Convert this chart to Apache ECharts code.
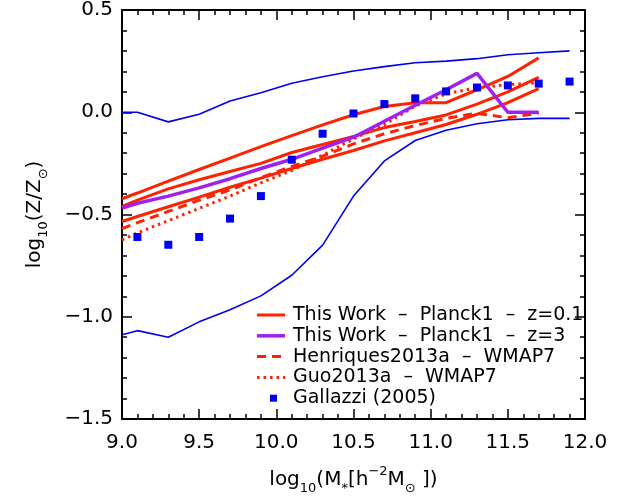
<!DOCTYPE html>
<html>
<head>
<meta charset="utf-8">
<script src="https://cdn.jsdelivr.net/npm/echarts@6/dist/echarts.min.js"></script>
<style>html,body{margin:0;padding:0;background:#fff}#c{width:635px;height:500px}</style>
</head>
<body>
<div id="c"></div>
<script>
// ---- data ----
const modelX = [9.0, 9.1, 9.3, 9.5, 9.7, 9.9, 10.1, 10.3, 10.5, 10.7, 10.9, 11.1, 11.3, 11.5, 11.7];
const planckZ01Upper = [-0.423, -0.395, -0.337, -0.28, -0.224, -0.168, -0.114, -0.062, -0.012, 0.028, 0.047, 0.047, 0.11, 0.175, 0.266];
const planckZ01Median = [-0.46, -0.43, -0.375, -0.33, -0.29, -0.25, -0.197, -0.158, -0.118, -0.075, -0.045, -0.013, 0.04, 0.10, 0.17];
const planckZ01Lower = [-0.534, -0.51, -0.462, -0.415, -0.367, -0.322, -0.275, -0.23, -0.187, -0.14, -0.1, -0.06, -0.01, 0.047, 0.115];
const planckZ3 = [-0.468, -0.445, -0.41, -0.37, -0.325, -0.275, -0.23, -0.175, -0.122, -0.044, 0.034, 0.11, 0.19, 0.0, 0.0];
const henriques2013a = [-0.569, -0.54, -0.485, -0.43, -0.38, -0.32, -0.265, -0.215, -0.155, -0.105, -0.065, -0.03, -0.005, -0.027, -0.004];
const guo2013a = [-0.624, -0.59, -0.53, -0.47, -0.41, -0.345, -0.285, -0.21, -0.13, -0.06, 0.03, 0.09, 0.12, 0.135, 0.145];

const obsX = [9.1, 9.3, 9.5, 9.7, 9.9, 10.1, 10.3, 10.5, 10.7, 10.9, 11.1, 11.3, 11.5, 11.7, 11.9];
const gallazziMedian = [-0.61, -0.648, -0.61, -0.52, -0.41, -0.232, -0.105, -0.006, 0.04, 0.068, 0.102, 0.121, 0.131, 0.14, 0.15];
const bandX = [9.0, 9.1, 9.3, 9.5, 9.7, 9.9, 10.1, 10.3, 10.5, 10.7, 10.9, 11.1, 11.3, 11.5, 11.7, 11.9];
const gallazziUpper = [0.0, 0.0, -0.047, -0.01, 0.055, 0.095, 0.142, 0.174, 0.202, 0.223, 0.242, 0.25, 0.262, 0.281, 0.291, 0.30];
const gallazziLower = [-1.088, -1.068, -1.10, -1.025, -0.966, -0.898, -0.797, -0.65, -0.41, -0.238, -0.138, -0.088, -0.056, -0.037, -0.03, -0.03];

const xTicks = [9.0, 9.5, 10.0, 10.5, 11.0, 11.5, 12.0];
const yTicks = [-1.5, -1.0, -0.5, 0.0, 0.5];

const legendNames = ['This Work  \u2013  Planck1  \u2013  z=0.1', 'This Work  \u2013  Planck1  \u2013  z=3', 'Henriques2013a  \u2013  WMAP7', 'Guo2013a  \u2013  WMAP7', 'Gallazzi (2005)'];

// ---- styling ----
const RED = '#ff2200', PURPLE = '#a020f0', BLUE = '#0000f0';
const FONT = 'DejaVu Sans';
const pair = (xs, ys) => xs.map((x, i) => [x, ys[i]]);
const fmt = v => (v < 0 ? '\u2212' : '') + Math.abs(v).toFixed(1);

function frameAxis(extra) {
  return Object.assign({
    type: 'value',
    axisLine: { show: true, onZero: false, lineStyle: { color: '#000', width: 2 } },
    axisTick: { show: true, inside: true, length: 10, lineStyle: { color: '#000', width: 1.5 } },
    minorTick: { show: true, splitNumber: 5, length: 5, lineStyle: { color: '#000', width: 1.5 } },
    splitLine: { show: false },
    minorSplitLine: { show: false },
    axisLabel: { show: false }
  }, extra);
}

const lineSeries = (name, data, color, width, type) => ({
  name, type: 'line', data, symbol: 'none', showSymbol: false, silent: true,
  xAxisIndex: 0, yAxisIndex: 0,
  lineStyle: { color, width, type: type || 'solid', opacity: 1 },
  itemStyle: { color },
  z: 3
});

// legend drawn as graphic items (line sample / marker + text)
const legendStyles = [
  { kind: 'line', color: RED, width: 3, dash: null },
  { kind: 'line', color: PURPLE, width: 3.5, dash: null },
  { kind: 'line', color: RED, width: 3, dash: [9, 6] },
  { kind: 'line', color: RED, width: 3, dash: [2.5, 4] },
  { kind: 'rect', color: BLUE }
];
const legendGraphics = [];
legendNames.forEach((name, i) => {
  const y = 315 + i * 20.8;
  const st = legendStyles[i];
  if (st.kind === 'line') {
    legendGraphics.push({
      type: 'line', silent: true,
      shape: { x1: 257, y1: y, x2: 285, y2: y },
      style: { stroke: st.color, lineWidth: st.width, lineDash: st.dash }
    });
  } else {
    legendGraphics.push({
      type: 'rect', silent: true,
      shape: { x: 270, y: y - 3.5, width: 7, height: 7 },
      style: { fill: st.color }
    });
  }
  legendGraphics.push({
    type: 'text', silent: true, x: 293, y: y,
    style: { text: name, font: '19px "DejaVu Sans"', fill: '#000', verticalAlign: 'middle', align: 'left' }
  });
});

const chart = echarts.init(document.getElementById('c'), null, { renderer: 'canvas' });
chart.setOption({
  animation: false,
  backgroundColor: '#fff',
  grid: { left: 122, right: 50, top: 4, bottom: 75, containLabel: false },
  xAxis: [
    frameAxis({
      position: 'bottom', min: 9, max: 12, interval: 0.5,
      axisLabel: { show: true, formatter: fmt, fontFamily: FONT, fontSize: 20, color: '#000', margin: 14 },
      name: '{a|log}{s|10}{a|(M}{s|*}{a|[h}{p|\u22122}{a|M}{s|\u2299}{a| ])}',
      nameLocation: 'middle', nameGap: 46,
      nameTextStyle: {
        fontFamily: FONT, fontSize: 20, color: '#000',
        rich: {
          a: { fontFamily: FONT, fontSize: 20, color: '#000', lineHeight: 30 },
          s: { fontFamily: FONT, fontSize: 13, color: '#000', lineHeight: 30, verticalAlign: 'bottom', padding: [12, 0, 0, 0] },
          p: { fontFamily: FONT, fontSize: 13, color: '#000', lineHeight: 30, verticalAlign: 'top', padding: [0, 0, 10, 0] }
        }
      }
    }),
    frameAxis({ position: 'top', min: 9, max: 12, interval: 0.5 })
  ],
  yAxis: [
    frameAxis({
      position: 'left', min: -1.5, max: 0.5, interval: 0.5,
      axisLabel: { show: true, formatter: fmt, fontFamily: FONT, fontSize: 20, color: '#000', margin: 9 },
      name: '{a|log}{s|10}{a|(Z/Z}{s|\u2299}{a|)}',
      nameLocation: 'middle', nameGap: 72, nameRotate: 90,
      nameTextStyle: {
        fontFamily: FONT, fontSize: 20, color: '#000',
        rich: {
          a: { fontFamily: FONT, fontSize: 20, color: '#000', lineHeight: 30 },
          s: { fontFamily: FONT, fontSize: 13, color: '#000', lineHeight: 30, verticalAlign: 'bottom', padding: [12, 0, 0, 0] }
        }
      }
    }),
    frameAxis({ position: 'right', min: -1.5, max: 0.5, interval: 0.5 })
  ],
  graphic: legendGraphics,
  series: [
    lineSeries('gallazziUpper', pair(bandX, gallazziUpper), BLUE, 1.6),
    lineSeries('gallazziLower', pair(bandX, gallazziLower), BLUE, 1.6),
    lineSeries(legendNames[0], pair(modelX, planckZ01Upper), RED, 3),
    lineSeries(legendNames[0], pair(modelX, planckZ01Median), RED, 3),
    lineSeries(legendNames[0], pair(modelX, planckZ01Lower), RED, 3),
    lineSeries(legendNames[2], pair(modelX, henriques2013a), RED, 3, [9, 6]),
    lineSeries(legendNames[3], pair(modelX, guo2013a), RED, 3, [2.5, 4]),
    lineSeries(legendNames[1], pair(modelX, planckZ3), PURPLE, 3.5),
    {
      name: legendNames[4], type: 'scatter', data: pair(obsX, gallazziMedian),
      symbol: 'rect', symbolSize: 8, itemStyle: { color: BLUE, opacity: 1 }, silent: true, z: 4
    }
  ]
});
</script>
</body>
</html>
